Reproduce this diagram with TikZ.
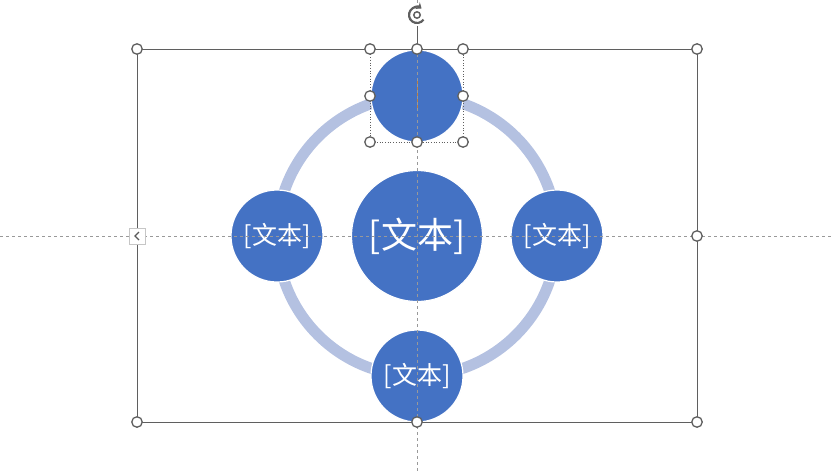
\documentclass[tikz,border=0pt]{standalone}
\usepackage{fontspec}
\newfontfamily\cjk{Noto Sans CJK SC}
\usetikzlibrary{arrows.meta}
\definecolor{cblue}{HTML}{4472C4}
\definecolor{ringblue}{HTML}{B4C1E1}
\definecolor{hgrey}{HTML}{5F5F5F}
\begin{document}
\begin{tikzpicture}[x=1pt,y=-1pt,font=\cjk\fontsize{25}{25}\selectfont,
  bubble/.style={circle,fill=cblue,draw=white,line width=1.2pt,text=white,inner sep=0pt,minimum size=92pt},
  handle/.style={circle,draw=hgrey,fill=white,line width=1.3pt,inner sep=0pt,minimum size=10.5pt},
  guide/.style={draw=gray!80,line width=0.6pt,dash pattern=on 3pt off 3pt}]
  \useasboundingbox (0,0) rectangle (834,471);
  \coordinate (o) at (417,236);
  % ring behind the bubbles
  \draw[ringblue,line width=11pt] (o) circle (140);
  \node[bubble,minimum size=131pt,font=\cjk\fontsize{36}{36}\selectfont] (mid) at (o) {[文本]};
  \node[bubble] (top) at (417,96) {};
  \node[bubble] (left) at (277,236) {[文本]};
  \node[bubble] (right) at (557,236) {[文本]};
  \node[bubble] (bot) at (417,376) {[文本]};
  \draw[orange!50!gray,line width=1pt] (417,81) -- (417,108);
  % guides
  \draw[guide] (0,236) -- (834,236);
  \draw[guide] (417,0) -- (417,471);
  % selection frames
  \draw[hgrey,line width=0.8pt] (137,49) rectangle (697,422);
  \draw[hgrey,line width=0.7pt,dotted] (370,49) rectangle (463,142);
  \node[circle,fill=white,inner sep=0pt,minimum size=22pt] (rot) at (417,15) {};
  \draw[hgrey,line width=0.9pt] (rot.south) -- (417,49);
  \draw[hgrey,line width=2.2pt,-{Stealth[length=5pt,width=8pt]}] (rot.center) ++(35:8) arc (35:305:8);
  \draw[hgrey,line width=1.5pt] (rot.center) circle (3.2);
  % handles
  \node[handle] (h1) at (137,49) {};  \node[handle] (h2) at (417,49) {};  \node[handle] (h3) at (697,49) {};
  \node[handle] (h4) at (697,236) {};
  \node[handle] (h5) at (137,422) {}; \node[handle] (h6) at (417,422) {}; \node[handle] (h7) at (697,422) {};
  \node[handle] (s1) at (370,49) {};  \node[handle] (s2) at (463,49) {};
  \node[handle] (s3) at (370,96) {};  \node[handle] (s4) at (463,96) {};
  \node[handle] (s5) at (370,142) {}; \node[handle] (s6) at (417,142) {}; \node[handle] (s7) at (463,142) {};
  \node[draw=gray!45,fill=white,line width=0.8pt,minimum size=16pt,inner sep=0pt] (pane) at (137,236) {};
  \draw[gray!70!black,line width=1.2pt] ([xshift=2pt,yshift=4pt]pane.center) -- ([xshift=-2pt]pane.center) -- ([xshift=2pt,yshift=-4pt]pane.center);
\end{tikzpicture}
\end{document}
